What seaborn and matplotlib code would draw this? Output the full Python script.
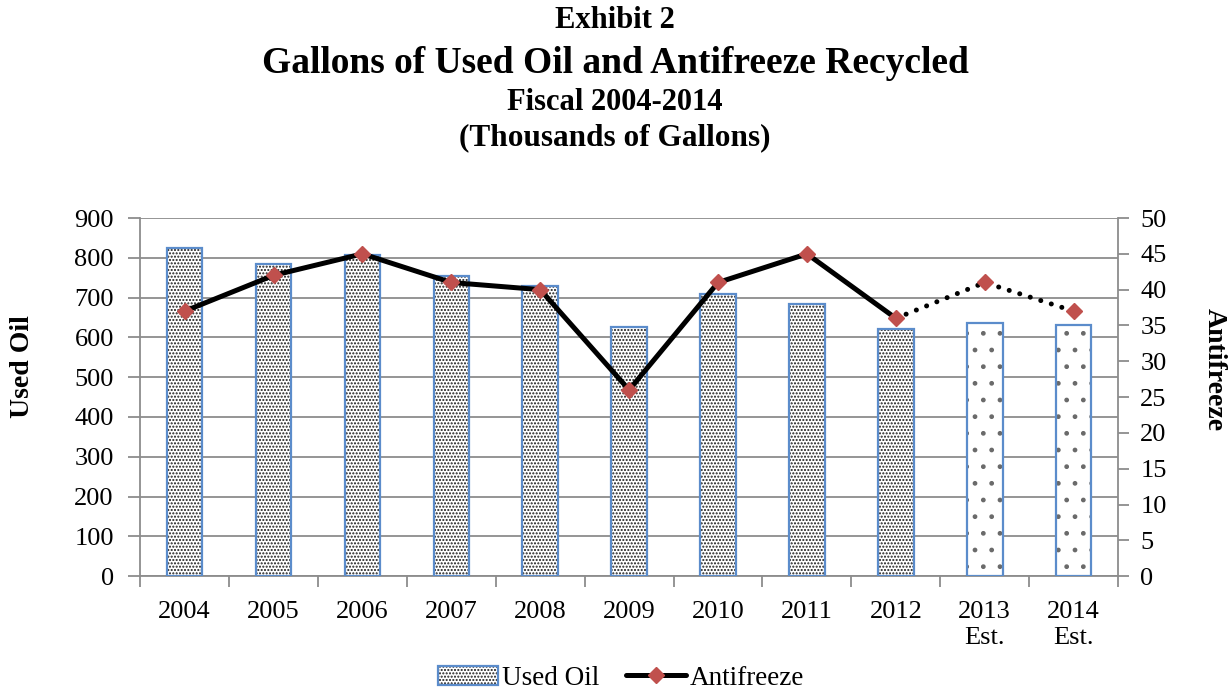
import matplotlib
matplotlib.use("Agg")
import matplotlib.pyplot as plt
import matplotlib.colors as mcolors
from matplotlib.patches import Patch
from matplotlib.lines import Line2D
import seaborn as sns
import pandas as pd
import numpy as np

years = ["2004", "2005", "2006", "2007", "2008", "2009", "2010", "2011", "2012",
         "2013\nEst.", "2014\nEst."]
used_oil = [825, 785, 808, 755, 730, 627, 710, 685, 622, 637, 630]
antifreeze = [37, 42, 45, 41, 40, 26, 41, 45, 36, 41, 37]
n_actual = 9  # 2004-2012 are actual figures, the rest are estimates

sns.set_theme(style="white")
plt.rcParams["font.family"] = ["Liberation Serif", "DejaVu Serif"]
plt.rcParams["hatch.linewidth"] = 1.0
plt.rcParams["text.color"] = "black"
plt.rcParams["axes.labelcolor"] = "black"
plt.rcParams["xtick.labelcolor"] = "black"
plt.rcParams["ytick.labelcolor"] = "black"

df = pd.DataFrame({"Year": years, "Used Oil": used_oil, "Antifreeze": antifreeze})
df["pos"] = np.arange(len(df))

fig = plt.figure(figsize=(12.3, 6.9), dpi=100)
ax = fig.add_axes([0.114, 0.165, 0.795, 0.519])

bar_edge = "#5B8CCB"
grid_c = "#8C8C8C"
dot_c = mcolors.to_rgba("#1a1a1a")
est_dot_c = mcolors.to_rgba("#6a6a6a")

sns.barplot(data=df, x="Year", y="Used Oil", ax=ax, color="white",
            width=0.4, edgecolor=bar_edge, linewidth=1.6, zorder=3)
for i, patch in enumerate(ax.patches):
    if i < n_actual:
        patch.set_hatch(".....")
        patch._hatch_color = dot_c
    else:
        patch.set_hatch(".")
        patch._hatch_color = est_dot_c

ax.set_ylim(0, 900)
ax.set_yticks(range(0, 901, 100))
ax.set_xlim(-0.5, len(years) - 0.5)
ax.yaxis.grid(True, color=grid_c, linewidth=1.3, zorder=0)
ax.set_axisbelow(True)
ax.set_xlabel("")
ax.set_ylabel("Used Oil", fontsize=20, fontweight="bold", va="center",
              color="black")
ax.yaxis.set_label_coords(-0.12, 0.585)

for side in ["top", "right"]:
    ax.spines[side].set_visible(False)
for side in ["left", "bottom"]:
    ax.spines[side].set_color(grid_c)
    ax.spines[side].set_linewidth(1.3)

ax.tick_params(axis="y", which="major", left=True, length=9, width=1.3,
               color=grid_c, labelcolor="black", labelsize=19, pad=10)
ax.tick_params(axis="x", which="major", bottom=False, labelcolor="black",
               labelsize=19, pad=12)
ax.set_xticks(np.arange(-0.5, len(years), 1.0), minor=True)
ax.tick_params(axis="x", which="minor", bottom=True, length=8, width=1.3,
               color=grid_c)
for lbl in ax.get_xticklabels():
    lbl.set_linespacing(1.25)
    lbl.set_verticalalignment("top")

ax2 = ax.twinx()
ax2.set_ylim(0, 50)
ax2.set_yticks(range(0, 51, 5))
ax2.set_xlim(ax.get_xlim())
for side in ["top", "left", "bottom"]:
    ax2.spines[side].set_visible(False)
ax2.spines["right"].set_color(grid_c)
ax2.spines["right"].set_linewidth(1.3)
ax2.tick_params(axis="y", right=True, length=8, width=1.3, color=grid_c,
                labelcolor="black", labelsize=19, pad=8)
ax2.grid(False)

actual = df.iloc[:n_actual]
estimate = df.iloc[n_actual - 1:]
sns.lineplot(data=actual, x="pos", y="Antifreeze", ax=ax2, color="black",
             linewidth=3.6, zorder=4)
ax2.plot(estimate["pos"], estimate["Antifreeze"], color="black", linewidth=3.6,
         linestyle=(0, (0.01, 2.2)), dash_capstyle="round", zorder=4)
ax2.plot(df["pos"], df["Antifreeze"], linestyle="none", marker="D",
         markersize=8, color="#C0504D", zorder=5)
ax2.set_xlabel("")
ax2.set_ylabel("Antifreeze", fontsize=20, fontweight="bold", rotation=-90,
               va="center", ha="center", color="black")
ax2.yaxis.set_label_coords(1.098, 0.578)

# Titles
fig.text(0.5, 0.971, "Exhibit 2", ha="center", va="center", fontsize=22,
         fontweight="bold", color="black")
fig.text(0.5, 0.908, "Gallons of Used Oil and Antifreeze Recycled",
         ha="center", va="center", fontsize=27, fontweight="bold",
         color="black")
fig.text(0.5, 0.851, "Fiscal 2004-2014", ha="center", va="center",
         fontsize=22, fontweight="bold", color="black")
fig.text(0.5, 0.8, "(Thousands of Gallons)", ha="center", va="center",
         fontsize=22.5, fontweight="bold", color="black")

# Legend
oil_handle = Patch(facecolor="white", edgecolor=bar_edge, hatch=".....",
                   linewidth=1.6, label="Used Oil")
handles = [
    oil_handle,
    Line2D([0], [0], color="black", linewidth=3.6, marker="D", markersize=8,
           markerfacecolor="#C0504D", markeredgecolor="#C0504D",
           label="Antifreeze"),
]
leg = fig.legend(handles=handles, loc="center", bbox_to_anchor=(0.505, 0.017),
                 ncol=2, frameon=False, fontsize=19.5, handlelength=2.2,
                 handletextpad=0.15, columnspacing=1.0, borderaxespad=0,
                 labelcolor="black")
for p in leg.get_patches():
    p._hatch_color = dot_c

fig.savefig("out.png", dpi=100)
